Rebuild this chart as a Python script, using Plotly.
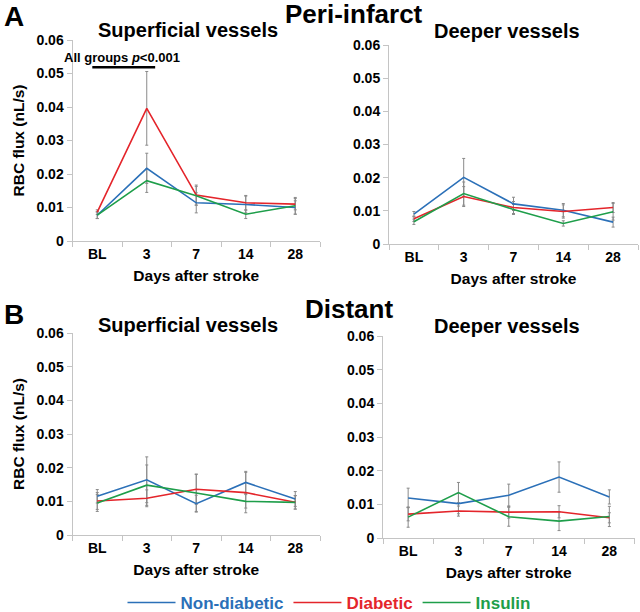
import plotly.graph_objects as go

days = ["BL", "3", "7", "14", "28"]
groups = ["Non-diabetic", "Diabetic", "Insulin"]

# Peri-infarct, superficial vessels
peri_sup_nondiab = [0.0077, 0.0217, 0.0114, 0.0109, 0.0100]
peri_sup_diab = [0.0086, 0.0396, 0.0137, 0.0114, 0.0110]
peri_sup_ins = [0.0077, 0.0180, 0.0135, 0.0080, 0.0105]
peri_sup_nondiab_err = [0.0010, 0.0045, 0.0030, 0.0025, 0.0020]
peri_sup_diab_err = [0.0007, 0.0110, 0.0030, 0.0022, 0.0017]
peri_sup_ins_err = [0.0010, 0.0035, 0.0028, 0.0013, 0.0025]

# Peri-infarct, deeper vessels
peri_deep_nondiab = [0.0090, 0.0201, 0.0121, 0.0102, 0.0066]
peri_deep_diab = [0.0076, 0.0143, 0.0110, 0.0098, 0.0110]
peri_deep_ins = [0.0067, 0.0152, 0.0104, 0.0062, 0.0097]
peri_deep_nondiab_err = [0.0008, 0.0057, 0.0020, 0.0020, 0.0015]
peri_deep_diab_err = [0.0008, 0.0030, 0.0018, 0.0020, 0.0015]
peri_deep_ins_err = [0.0008, 0.0035, 0.0015, 0.0008, 0.0025]

# Distant, superficial vessels
dist_sup_nondiab = [0.0115, 0.0164, 0.0093, 0.0156, 0.0107]
dist_sup_diab = [0.0101, 0.0109, 0.0136, 0.0126, 0.0097]
dist_sup_ins = [0.0095, 0.0148, 0.0125, 0.0100, 0.0097]
dist_sup_nondiab_err = [0.0020, 0.0068, 0.0025, 0.0033, 0.0022]
dist_sup_diab_err = [0.0025, 0.0025, 0.0045, 0.0060, 0.0020]
dist_sup_ins_err = [0.0025, 0.0060, 0.0055, 0.0020, 0.0020]

# Distant, deeper vessels
dist_deep_nondiab = [0.0119, 0.0102, 0.0127, 0.0181, 0.0122]
dist_deep_diab = [0.0071, 0.0080, 0.0077, 0.0078, 0.0060]
dist_deep_ins = [0.0062, 0.0135, 0.0063, 0.0050, 0.0064]
dist_deep_nondiab_err = [0.0029, 0.0030, 0.0033, 0.0045, 0.0021]
dist_deep_diab_err = [0.0020, 0.0015, 0.0018, 0.0018, 0.0015]
dist_deep_ins_err = [0.0030, 0.0030, 0.0028, 0.0028, 0.0030]

colors = ["#2b70b8", "#e4252b", "#1e9e4a"]
FONT = "Liberation Sans, Arial, sans-serif"

panels = [
    ("x", "y", [peri_sup_nondiab, peri_sup_diab, peri_sup_ins],
     [peri_sup_nondiab_err, peri_sup_diab_err, peri_sup_ins_err]),
    ("x2", "y2", [peri_deep_nondiab, peri_deep_diab, peri_deep_ins],
     [peri_deep_nondiab_err, peri_deep_diab_err, peri_deep_ins_err]),
    ("x3", "y3", [dist_sup_nondiab, dist_sup_diab, dist_sup_ins],
     [dist_sup_nondiab_err, dist_sup_diab_err, dist_sup_ins_err]),
    ("x4", "y4", [dist_deep_nondiab, dist_deep_diab, dist_deep_ins],
     [dist_deep_nondiab_err, dist_deep_diab_err, dist_deep_ins_err]),
]

fig = go.Figure()
for pi, (xa, ya, series, errs) in enumerate(panels):
    for gi in range(3):
        fig.add_trace(go.Scatter(
            x=days, y=series[gi], xaxis=xa, yaxis=ya, mode="markers",
            marker=dict(size=0.1, color="rgba(0,0,0,0)"),
            error_y=dict(type="data", array=errs[gi], color="#8a8a8a",
                         thickness=1, width=1.5),
            showlegend=False, hoverinfo="skip"))
    for gi in range(3):
        fig.add_trace(go.Scatter(
            x=days, y=series[gi], xaxis=xa, yaxis=ya, mode="lines",
            line=dict(color=colors[gi], width=1.6),
            name="<b><span style='color:%s'>%s</span></b>" % (colors[gi], groups[gi]),
            legendgroup=groups[gi], showlegend=(pi == 0)))

W, H = 640, 612
def px_x(a, b):
    return [a / W, b / W]
def px_y(top, bottom):
    return [1 - bottom / H, 1 - top / H]

domains = {
    "1": (px_x(72.5, 320), px_y(40, 241)),
    "2": (px_x(389, 638), px_y(45, 244)),
    "3": (px_x(72.5, 320), px_y(333, 535)),
    "4": (px_x(383, 634.5), px_y(336, 538)),
}

tickfont = dict(family=FONT, size=14, color="black", weight="bold")
axcommon_x = dict(type="category", showline=True, linecolor="#c4c4c4", linewidth=1,
                  ticks="outside", tickson="boundaries", ticklen=5, tickcolor="#c4c4c4",
                  showgrid=False, zeroline=False, automargin=False,
                  tickfont=tickfont, ticklabelstandoff=0,
                  range=[-0.5, 4.5])
axcommon_y = dict(range=[0, 0.06], tickvals=[0, 0.01, 0.02, 0.03, 0.04, 0.05, 0.06],
                  ticktext=["0", "0.01", "0.02", "0.03", "0.04", "0.05", "0.06"],
                  showline=True, linecolor="#c4c4c4", linewidth=1,
                  ticks="outside", ticklen=5, tickcolor="#c4c4c4",
                  showgrid=False, zeroline=False, automargin=False,
                  tickfont=tickfont)

layout = dict(template="none", width=W, height=H,
              margin=dict(l=0, r=0, t=0, b=0, autoexpand=False),
              paper_bgcolor="white", plot_bgcolor="white",
              font=dict(family=FONT, color="black"))
for k, (xd, yd) in domains.items():
    sfx = "" if k == "1" else k
    xt = dict(axcommon_x, domain=xd, anchor="y" + sfx,
              title=dict(text="<b>Days after stroke</b>",
                         font=dict(family=FONT, size=15.5, color="black"), standoff=9))
    yt = dict(axcommon_y, domain=yd, anchor="x" + sfx)
    if k in ("1", "3"):
        yt["title"] = dict(text="<b>RBC flux (nL/s)</b>",
                           font=dict(family=FONT, size=15.5, color="black"), standoff=8)
    layout["xaxis" + sfx] = xt
    layout["yaxis" + sfx] = yt

layout["legend"] = dict(orientation="h", x=329 / W, xanchor="center", y=1 - 603 / H,
                        yanchor="middle", font=dict(family=FONT, size=17),
                        itemwidth=48, tracegroupgap=0, bgcolor="rgba(0,0,0,0)")

def ann(text, x, y, size, xanchor="center"):
    return dict(text=text, x=x / W, y=1 - y / H, xref="paper", yref="paper",
                showarrow=False, xanchor=xanchor, yanchor="middle",
                font=dict(family=FONT, size=size, color="black"))

annotations = [
    ann("<b>A</b>", 2, 16, 28, "left"),
    ann("<b>Peri-infarct</b>", 354, 14, 26),
    ann("<b>Superficial vessels</b>", 188, 30, 20),
    ann("<b>Deeper vessels</b>", 507, 31, 20),
    ann("<b>B</b>", 2, 314, 28, "left"),
    ann("<b>Distant</b>", 349, 309, 26),
    ann("<b>Superficial vessels</b>", 188, 325, 20),
    ann("<b>Deeper vessels</b>", 507, 326, 20),
    dict(text="<b>All groups <i>p</i><0.001</b>", x=0.5, y=0.0549, xref="x", yref="y",
         showarrow=False, xanchor="center", yanchor="middle",
         font=dict(family=FONT, size=13, color="black")),
]
layout["annotations"] = annotations
layout["shapes"] = [dict(type="line", xref="x", yref="y", x0=-0.1, x1=1.17,
                         y0=0.0519, y1=0.0519, line=dict(color="black", width=2.5))]

fig.update_layout(**layout)
fig.write_html("out.html", config={"displayModeBar": False},
               post_script="document.body.style.margin='0';")
